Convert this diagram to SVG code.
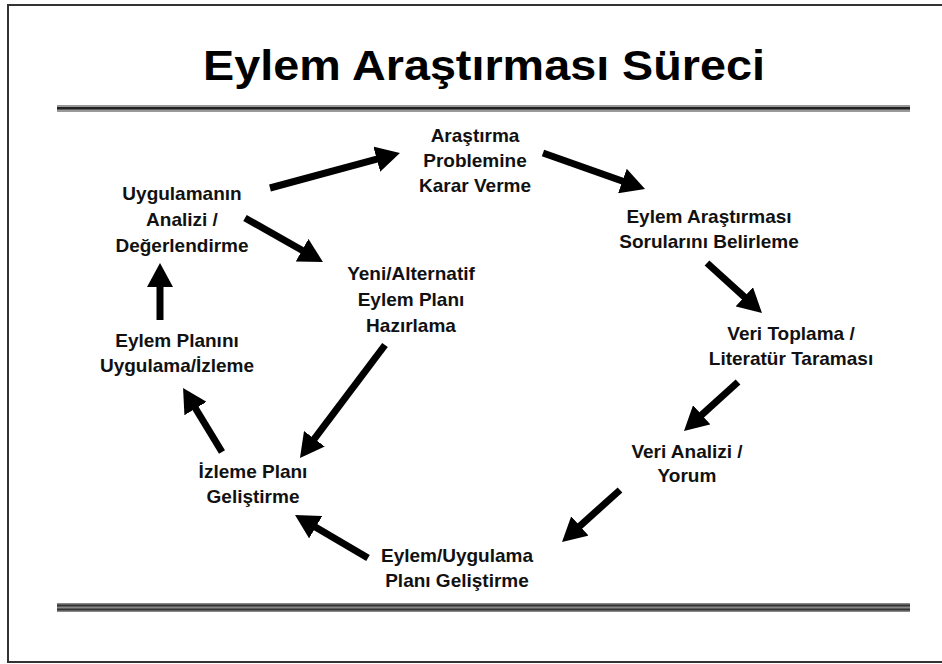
<svg xmlns="http://www.w3.org/2000/svg" width="942" height="664" viewBox="0 0 942 664">
<defs>
<style>
.t{font-family:"Liberation Sans",Arial,sans-serif;font-weight:bold;font-size:19px;fill:#111;text-anchor:middle}
.title{font-family:"Liberation Sans",Arial,sans-serif;font-weight:bold;font-size:42px;fill:#000;text-anchor:middle}
.c line{stroke:#000;stroke-width:7;marker-end:url(#ah)}
</style>
<marker id="ah" markerUnits="userSpaceOnUse" markerWidth="24" markerHeight="26" viewBox="0 0 24 26" refX="2" refY="13" orient="auto">
<path d="M0,0 L24,13 L0,26 z" fill="#000"/>
</marker>
</defs>
<rect width="942" height="664" fill="#fff"/>
<path d="M942,5 H8 V662 H942" fill="none" stroke="#333" stroke-width="2"/>
<text class="title" x="484" y="80" textLength="562" lengthAdjust="spacingAndGlyphs">Eylem Araştırması Süreci</text>
<rect x="57" y="105" width="853" height="7" fill="#999"/>
<rect x="57" y="107" width="853" height="2.5" fill="#222"/>
<rect x="57" y="603" width="853" height="9" fill="#888"/>
<rect x="57" y="604.5" width="853" height="2" fill="#333"/>
<rect x="57" y="608.5" width="853" height="2" fill="#333"/>
<g id="n1"><text class="t" x="475" y="142">Araştırma</text><text class="t" x="475" y="167">Problemine</text><text class="t" x="475" y="192">Karar Verme</text></g>
<g id="n2"><text class="t" x="709" y="223">Eylem Araştırması</text><text class="t" x="709" y="248">Sorularını Belirleme</text></g>
<g id="n3"><text class="t" x="791" y="340">Veri Toplama /</text><text class="t" x="791" y="365">Literatür Taraması</text></g>
<g id="n4"><text class="t" x="687" y="458">Veri Analizi /</text><text class="t" x="687" y="482">Yorum</text></g>
<g id="n5"><text class="t" x="457" y="562">Eylem/Uygulama</text><text class="t" x="457" y="587">Planı Geliştirme</text></g>
<g id="n6"><text class="t" x="253" y="478">İzleme Planı</text><text class="t" x="253" y="503">Geliştirme</text></g>
<g id="n7"><text class="t" x="177" y="347">Eylem Planını</text><text class="t" x="177" y="372">Uygulama/İzleme</text></g>
<g id="n8"><text class="t" x="182" y="200">Uygulamanın</text><text class="t" x="182" y="226">Analizi /</text><text class="t" x="182" y="252">Değerlendirme</text></g>
<g id="n9"><text class="t" x="411" y="280">Yeni/Alternatif</text><text class="t" x="411" y="306">Eylem Planı</text><text class="t" x="411" y="332">Hazırlama</text></g>
<g id="connectors" class="c">
<line x1="270" y1="188" x2="378.7" y2="158.7"/>
<line x1="543" y1="153" x2="624.3" y2="181.7"/>
<line x1="707" y1="263" x2="745.7" y2="298.2"/>
<line x1="738" y1="382" x2="700.3" y2="416.2"/>
<line x1="620" y1="490" x2="578.4" y2="527.3"/>
<line x1="368" y1="558" x2="314" y2="526.2"/>
<line x1="222" y1="452" x2="194.5" y2="406.8"/>
<line x1="160" y1="320" x2="160" y2="285"/>
<line x1="245" y1="218" x2="303.8" y2="251.2"/>
<line x1="385" y1="345" x2="313.2" y2="440.4"/>
</g>
</svg>
